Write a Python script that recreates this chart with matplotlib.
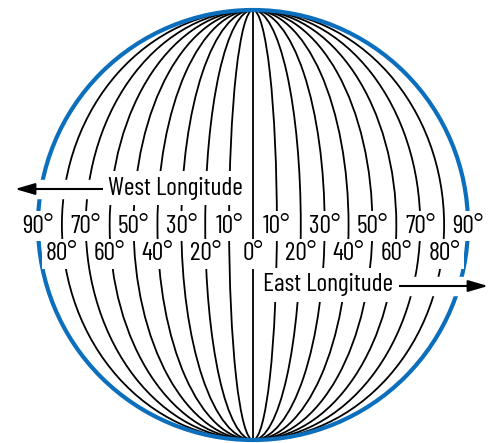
import matplotlib
matplotlib.use('Agg')
import matplotlib.pyplot as plt
from matplotlib.patches import Ellipse, Circle

# meridians drawn as ellipses, degrees from the centre meridian
meridians = [10, 20, 30, 40, 50, 60, 70, 80]
upper_labels = [90, 70, 50, 30, 10]   # row on the equator line
lower_labels = [80, 60, 40, 20, 0]    # row just below
west_title = 'West Longitude'
east_title = 'East Longitude'

CX, CY, R = 253, 225, 215
BLUE = '#0b6fbd'
FONT = ['Barlow Condensed', 'Roboto Condensed', 'DejaVu Sans']
FS = 18.5

fig = plt.figure(figsize=(4.91, 4.43), dpi=100)
ax = fig.add_axes([0, 0, 1, 1])
ax.set_xlim(0, 491)
ax.set_ylim(443, 0)
ax.set_aspect('equal')
ax.axis('off')

def lon_x(lon, east):
    off = R * lon / 90
    return CX + off if east else CX - off

# meridians
ax.plot([CX, CX], [CY - R, CY + R], color='black', lw=1.3, zorder=1)
for lon in meridians:
    ax.add_patch(Ellipse((CX, CY), 2 * R * lon / 90, 2 * R, fill=False,
                         ec='black', lw=1.3, zorder=1))
ax.add_patch(Circle((CX, CY), R, fill=False, ec=BLUE, lw=3, zorder=2))

box = dict(fc='white', ec='none', pad=2.5)
txt = dict(fontsize=FS, family=FONT, ha='center', va='center', zorder=4,
           bbox=box)

for lon in upper_labels:
    for east in (False, True):
        ax.text(lon_x(lon, east), 226, f'{lon}°', **txt)
for lon in lower_labels:
    sides = (False,) if lon == 0 else (False, True)
    for east in sides:
        ax.text(lon_x(lon, east), 254, f'{lon}°', **txt)

# direction captions with arrows
ax.text(243, 188, west_title, fontsize=FS, family=FONT, ha='right',
        va='center', zorder=4, bbox=dict(fc='white', ec='none', pad=4))
ax.text(263, 285, east_title, fontsize=FS, family=FONT, ha='left',
        va='center', zorder=4, bbox=dict(fc='white', ec='none', pad=4))

arrow = dict(arrowstyle='-|>,head_length=1.2,head_width=0.35', color='black',
             lw=1.5, shrinkA=0, shrinkB=0)
for x0, x1, y in [(111, 15, 189), (394, 488, 286)]:
    ax.plot([x0, x1], [y, y], color='white', lw=14, solid_capstyle='butt',
            zorder=3)
    ax.annotate('', xy=(x1, y), xytext=(x0, y), arrowprops=arrow, zorder=3.5)

fig.savefig('out.png', dpi=100)
